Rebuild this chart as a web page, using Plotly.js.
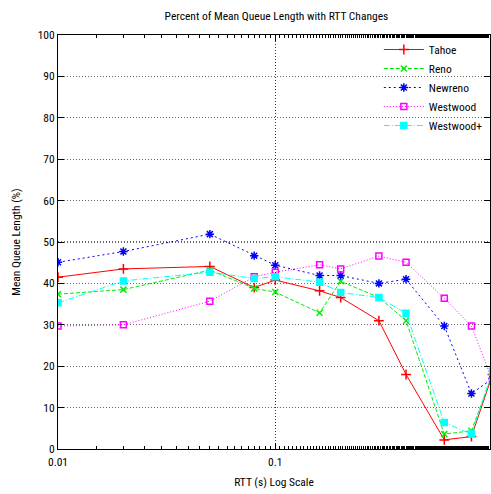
<!DOCTYPE html>
<html>
<head>
<meta charset="utf-8">
<script src="https://cdn.plot.ly/plotly-3.0.1.min.js"></script>
<style>html,body{margin:0;padding:0;background:#fff;overflow:hidden}</style>
</head>
<body>
<div id="chart" style="width:491px;height:494px"></div>
<script>
const rtt = [0.01, 0.02, 0.05, 0.08, 0.1, 0.16, 0.2, 0.3, 0.4, 0.6, 0.8, 1.0];
const tahoe     = [41.5, 43.5, 44.1, 39.0, 40.8, 38.2, 36.6, 31.0, 18.0, 2.2, 3.0, 18.0];
const reno      = [37.4, 38.5, 43.2, 38.8, 37.9, 32.9, 40.5, 36.6, 31.0, 3.6, 4.4, 18.0];
const newreno   = [45.1, 47.7, 51.9, 46.7, 44.4, 41.9, 41.9, 40.0, 41.0, 29.7, 13.4, 17.0];
const westwood  = [29.7, 30.0, 35.7, 41.6, 42.7, 44.5, 43.5, 46.6, 45.1, 36.4, 29.7, 16.5];
const westwoodp = [35.3, 40.6, 42.7, 41.2, 41.6, 40.3, 37.8, 36.6, 32.8, 6.4, 3.6, 18.8];
const seriesNames = ["Tahoe", "Reno", "Newreno", "Westwood", "Westwood+"];
const xTickVals = [0.01, 0.1, 1];
const xTickText = ["0.01", "0.1", "1"];

const FONT = "'Roboto Condensed', 'DejaVu Sans Condensed', 'Liberation Sans', Arial, sans-serif";
const FS = 11.5;

const styles = [
  {color: "#ff0000", dash: "solid",       symbol: "cross-thin-open", size: 7},
  {color: "#00ee00", dash: "4px,2px",     symbol: "x-thin-open",     size: 6},
  {color: "#0000ff", dash: "2px,3px",     symbol: "asterisk-open",   size: 7},
  {color: "#ff00ff", dash: "1px,2px",     symbol: "square-open",     size: 6},
  {color: "#00ffff", dash: "6px,2px,1px,2px", symbol: "square",      size: 6}
];
const ys = [tahoe, reno, newreno, westwood, westwoodp];

const traces = ys.map((y, i) => ({
  x: rtt, y: y, name: seriesNames[i], type: "scatter", mode: "lines+markers",
  line: {color: styles[i].color, width: 1, dash: styles[i].dash},
  marker: {symbol: styles[i].symbol, size: styles[i].size, color: styles[i].color,
           line: {color: styles[i].color, width: 1.5}},
  cliponaxis: true
}));

const layout = {
  width: 491, height: 494,
  margin: {l: 58, r: 1, t: 35, b: 45},
  paper_bgcolor: "#fff", plot_bgcolor: "#fff",
  font: {family: FONT, size: FS, color: "#000"},
  title: {text: "Percent of Mean Queue Length with RTT Changes", x: 0.563, xanchor: "center", y: 0.968, yanchor: "middle",
          font: {family: FONT, size: FS, color: "#000"}},
  showlegend: true,
  legend: {x: 0.995, xanchor: "right", y: 1.0, yanchor: "top", bgcolor: "rgba(0,0,0,0)",
           font: {family: FONT, size: FS}, tracegroupgap: 0, itemwidth: 40},
  xaxis: {
    type: "log", range: [-2, -0.0115],
    tickvals: xTickVals, ticktext: xTickText,
    ticks: "inside", ticklen: 6, tickcolor: "#000", tickwidth: 1,
    ticklabelstandoff: 2,
    showline: true, linecolor: "#000", linewidth: 1, mirror: "allticks",
    showgrid: true, gridcolor: "#333", griddash: "1px,2px", gridwidth: 1,
    zeroline: false,
    minor: {ticks: "inside", ticklen: 3, tickcolor: "#000", showgrid: false},
    tickfont: {family: FONT, size: FS},
    title: {text: "RTT (s) Log Scale", font: {family: FONT, size: FS}, standoff: 10}
  },
  yaxis: {
    range: [0, 100], dtick: 10,
    ticks: "inside", ticklen: 6, tickcolor: "#000", tickwidth: 1,
    showline: true, linecolor: "#000", linewidth: 1, mirror: "allticks",
    showgrid: true, gridcolor: "#666", griddash: "1px,2px", gridwidth: 1.2,
    zeroline: false,
    tickfont: {family: FONT, size: FS},
    title: {text: "Mean Queue Length (%)", font: {family: FONT, size: FS}, standoff: 14}
  }
};

Plotly.newPlot("chart", traces, layout, {staticPlot: true, displayModeBar: false});
</script>
</body>
</html>
